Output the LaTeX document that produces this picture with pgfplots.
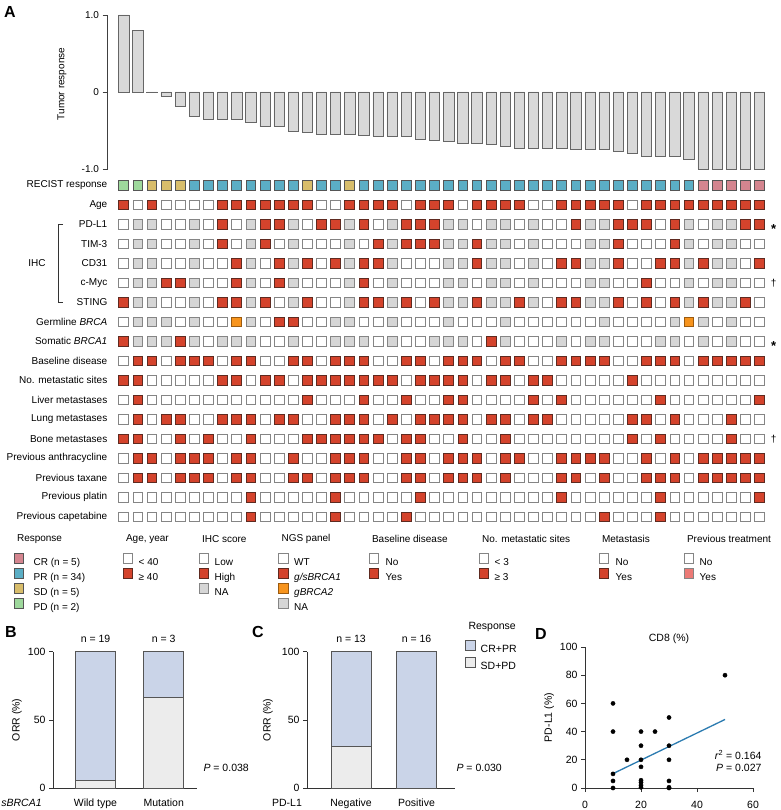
\documentclass[border=0pt]{standalone}
\usepackage{fontspec}
\setmainfont{Liberation Sans}
\usepackage{pgfplots}
\usepackage{pgfplotstable}
\pgfplotsset{compat=1.18}

\definecolor{cred}{HTML}{D4432C}
\definecolor{credb}{HTML}{5E2A20}
\definecolor{cgr}{HTML}{D6D6D6}
\definecolor{cbw}{HTML}{858585}
\definecolor{cor}{HTML}{F7941D}
\definecolor{corb}{HTML}{9A5A10}
\definecolor{ccr}{HTML}{D4858F}
\definecolor{cpr}{HTML}{5BAEC5}
\definecolor{csd}{HTML}{D8BD6B}
\definecolor{cpd}{HTML}{9ED89C}
\definecolor{cbk}{HTML}{555555}
\definecolor{cwf}{HTML}{D9D9D9}
\definecolor{cblue}{HTML}{CAD4E8}
\definecolor{cgl}{HTML}{ECECEC}
\definecolor{cline}{HTML}{2B7BB0}
\definecolor{csal}{HTML}{EC7A76}

\newcommand\fa{\fontsize{10}{12}\selectfont}
\newcommand\fb{\fontsize{10.5}{12.5}\selectfont}

% one line per patient: waterfall value, RECIST class, then the 17 annotation rows
% 0 white, 1 red, 2 grey (NA), 3 orange; RECIST 4 CR, 5 PR, 6 SD, 7 PD
\pgfplotstableread{
c w rec age pdl tim cd myc st gb sb bd nm li lu bo an ta pl ca
0 1.00 7 1 0 0 0 0 1 0 1 0 1 0 0 1 0 0 0 0
1 0.80 7 0 2 2 2 2 2 2 2 1 1 1 1 1 1 1 0 0
2 -0.005 6 1 2 2 2 2 2 2 2 1 0 0 0 0 1 1 0 0
3 -0.05 6 0 0 0 0 1 0 2 2 0 0 0 1 0 0 0 0 0
4 -0.18 6 0 0 0 0 1 0 0 1 1 0 0 1 1 1 1 0 0
5 -0.31 5 0 2 2 2 2 2 2 2 1 0 0 0 0 1 1 0 0
6 -0.35 5 0 0 0 0 0 0 0 0 1 0 0 0 1 1 1 0 0
7 -0.36 5 1 1 1 0 0 1 0 2 0 1 0 1 0 0 0 0 0
8 -0.36 5 1 0 0 1 1 1 3 2 1 1 0 1 0 1 1 0 0
9 -0.40 5 1 2 2 2 2 2 2 2 1 0 0 1 1 1 1 1 1
10 -0.45 5 1 1 1 0 0 1 0 0 0 1 0 0 0 0 0 0 0
11 -0.45 5 1 1 0 1 1 0 1 0 0 1 0 1 0 0 0 0 0
12 -0.51 5 1 2 2 2 2 2 1 2 1 0 0 1 0 1 1 0 0
13 -0.52 6 1 0 0 1 0 1 0 0 1 1 1 0 1 0 1 0 0
14 -0.55 5 0 1 0 0 0 0 0 0 0 1 0 0 1 0 0 0 0
15 -0.55 5 0 1 0 1 0 0 2 2 1 1 0 1 1 1 1 1 1
16 -0.55 6 1 2 2 2 2 2 2 2 1 1 0 1 1 1 1 0 0
17 -0.56 5 1 1 0 1 1 1 0 2 1 1 1 1 1 1 1 0 0
18 -0.57 5 1 0 1 1 0 1 0 0 0 1 0 0 1 0 0 0 0
19 -0.57 5 1 2 2 2 2 2 2 2 0 1 0 1 0 0 0 0 0
20 -0.58 5 0 1 1 0 0 1 0 0 1 0 1 0 1 1 1 0 1
21 -0.62 5 1 1 1 0 0 0 0 0 1 1 0 1 1 1 1 1 0
22 -0.63 5 1 1 1 0 0 1 0 2 0 1 0 1 0 0 0 0 0
23 -0.64 5 1 2 2 2 2 2 2 2 1 1 1 1 0 1 1 0 0
24 -0.67 5 0 2 2 2 2 2 0 2 1 1 1 1 1 1 1 0 0
25 -0.67 5 1 0 1 1 0 1 0 0 1 0 0 0 0 1 1 0 0
26 -0.68 5 1 2 2 2 2 2 0 1 0 1 0 1 0 0 0 0 0
27 -0.70 5 1 2 2 2 2 2 2 2 1 1 0 1 1 1 1 0 0
28 -0.73 5 1 0 0 0 0 1 0 0 1 0 0 0 0 1 0 0 0
29 -0.73 5 0 2 2 2 2 2 0 0 0 1 1 1 0 0 0 0 0
30 -0.73 5 0 0 0 0 0 0 0 0 0 1 0 1 0 0 0 0 0
31 -0.73 5 1 0 0 1 0 1 0 2 1 0 1 0 0 1 1 1 0
32 -0.75 5 1 1 0 1 0 1 0 0 1 0 0 0 0 1 1 0 0
33 -0.75 5 1 2 2 2 2 2 0 2 1 0 0 0 0 1 0 0 0
34 -0.75 5 1 2 2 2 2 2 2 2 1 0 0 0 0 1 1 0 1
35 -0.77 5 1 1 1 1 0 1 0 0 0 0 0 0 0 0 0 0 0
36 -0.79 5 0 1 0 0 0 0 0 0 0 1 0 1 1 0 0 0 0
37 -0.83 5 1 1 0 0 1 1 0 0 1 0 0 1 0 1 1 0 0
38 -0.83 5 1 0 0 1 0 0 0 2 1 0 1 0 1 0 1 1 1
39 -0.83 5 1 1 1 1 0 1 2 2 1 0 0 1 0 1 1 0 0
40 -0.87 5 1 2 2 2 2 2 3 0 0 0 0 0 0 0 0 0 0
41 -1.00 4 1 0 0 1 0 1 2 2 1 0 0 0 0 1 1 0 0
42 -1.00 4 1 2 2 2 2 2 0 0 1 0 0 0 0 1 1 0 0
43 -1.00 4 1 2 2 2 2 2 2 2 1 0 0 1 1 1 1 0 0
44 -1.00 4 1 1 0 0 0 1 0 0 1 0 0 0 0 1 1 0 0
45 -1.00 4 1 1 0 1 0 0 0 0 1 0 1 0 0 1 1 1 0
}\gridtab

\pgfplotsset{
  every axis/.append style={/pgf/number format/assume math mode=true},
  cellrow/.style={scatter, only marks, scatter src=explicit symbolic,
    mark size=4.9pt, line width=0.7pt,
    scatter/classes={
      0={mark=square*, fill=white, draw=cbw},
      1={mark=square*, fill=cred, draw=credb},
      2={mark=square*, fill=cgr, draw=cbw},
      3={mark=square*, fill=cor, draw=corb},
      4={mark=square*, fill=ccr, draw=cbk},
      5={mark=square*, fill=cpr, draw=cbk},
      6={mark=square*, fill=csd, draw=cbk},
      7={mark=square*, fill=cpd, draw=cbk}}},
  lgd/.style={hide axis, scale only axis, width=1pt, height=1pt,
    xmin=0, xmax=1, ymin=0, ymax=1, anchor=north west,
    legend image code/.code={\draw[line width=0.7pt, ##1] (0pt,-1.25pt) rectangle (9.5pt,8.25pt);},
    legend style={at={(0,1)}, anchor=north west, draw=none, fill=none,
      inner sep=0pt, outer sep=0pt, row sep=1.7pt, column sep=#1,
      font=\fa, nodes={inner sep=0pt, text height=8.25pt, text depth=1.25pt}},
    legend cell align=left},
  panel/.style={scale only axis, anchor=south west, axis x line=bottom, axis y line=left,
    axis line style={-, draw=black!80, line width=0.6pt}, tick align=outside,
    major tick length=4pt, tick style={draw=black!80, line width=0.6pt},
    tick label style={font=\fb}, label style={font=\fb}, clip=false},
}

\begin{document}
\begin{tikzpicture}[x=1pt,y=1pt]
\useasboundingbox (0,0) rectangle (780,810);

% ---------------- A: waterfall
\begin{axis}[at={(107.5pt,641pt)}, anchor=south west, scale only axis,
  width=659.1pt, height=154pt, xmin=-1.143, xmax=45.5, ymin=-1, ymax=1,
  axis x line=none, axis y line=left, axis line style={-, draw=black!75, line width=0.6pt},
  ytick={-1,0,1}, yticklabels={-1.0,0,1.0}, tick align=outside, major tick length=5pt,
  ytick style={draw=black!75, line width=0.6pt}, yticklabel style={font=\fa},
  ylabel={Tumor response}, ylabel style={font=\fa, at={(axis description cs:-0.069,0.552)}, anchor=center},
  clip=false]
\addplot[ybar, bar width=10.3pt, fill=cwf, draw=black!60, line width=0.6pt]
  table[x=c, y=w] {\gridtab};
\end{axis}

% ---------------- A: annotation grid
\begin{axis}[at={(107.5pt,283.45pt)}, anchor=south west, scale only axis,
  width=659.1pt, height=351pt, xmin=-1.143, xmax=45.5, ymin=-0.5, ymax=17.5,
  y dir=reverse, clip=false, axis x line=none, axis y line*=left,
  y axis line style={draw=none}, ytick={0,...,17}, ytick style={draw=none},
  yticklabels={RECIST response, Age, PD-L1, TIM-3, CD31, c-Myc, STING,
    {Germline \textit{BRCA}}, {Somatic \textit{BRCA1}}, Baseline disease,
    No. metastatic sites, Liver metastases, Lung metastases, Bone metastases,
    Previous anthracycline, Previous taxane, Previous platin, Previous capetabine},
  yticklabel style={font=\fa, anchor=east, inner sep=0pt}]
\addplot[cellrow] table[x=c, y expr=0, meta=rec] {\gridtab};
\addplot[cellrow] table[x=c, y expr=1, meta=age] {\gridtab};
\addplot[cellrow] table[x=c, y expr=2, meta=pdl] {\gridtab};
\addplot[cellrow] table[x=c, y expr=3, meta=tim] {\gridtab};
\addplot[cellrow] table[x=c, y expr=4, meta=cd] {\gridtab};
\addplot[cellrow] table[x=c, y expr=5, meta=myc] {\gridtab};
\addplot[cellrow] table[x=c, y expr=6, meta=st] {\gridtab};
\addplot[cellrow] table[x=c, y expr=7, meta=gb] {\gridtab};
\addplot[cellrow] table[x=c, y expr=8, meta=sb] {\gridtab};
\addplot[cellrow] table[x=c, y expr=9, meta=bd] {\gridtab};
\addplot[cellrow] table[x=c, y expr=10, meta=nm] {\gridtab};
\addplot[cellrow] table[x=c, y expr=11, meta=li] {\gridtab};
\addplot[cellrow] table[x=c, y expr=12, meta=lu] {\gridtab};
\addplot[cellrow] table[x=c, y expr=13, meta=bo] {\gridtab};
\addplot[cellrow] table[x=c, y expr=14, meta=an] {\gridtab};
\addplot[cellrow] table[x=c, y expr=15, meta=ta] {\gridtab};
\addplot[cellrow] table[x=c, y expr=16, meta=pl] {\gridtab};
\addplot[cellrow] table[x=c, y expr=17, meta=ca] {\gridtab};
\node[font=\fontsize{13}{13}\selectfont\bfseries] at (axis cs:46,2.25) {*};
\node[font=\fontsize{13}{13}\selectfont\bfseries] at (axis cs:46,8.25) {*};
\node[font=\fa] at (axis cs:46,5) {\textdagger};
\node[font=\fa] at (axis cs:46,13) {\textdagger};
\end{axis}

\draw[line width=0.6pt, black!80] (63,585.7) -- (58,585.7) -- (58,507.7) -- (63,507.7);
\node[font=\fa] at (37,546.7) {IHC};
\node[font=\fontsize{16}{16}\selectfont\bfseries] at (10,798) {A};

% ---------------- A: legends
\node[font=\fa, anchor=west] at (13.5,271) {Response};
\node[font=\fa, anchor=west] at (122.5,271) {Age, year};
\node[font=\fa, anchor=west] at (198.5,271) {IHC score};
\node[font=\fa, anchor=west] at (278,271) {NGS panel};
\node[font=\fa, anchor=west] at (368.5,271) {Baseline disease};
\node[font=\fa, anchor=west] at (478.5,271) {No. metastatic sites};
\node[font=\fa, anchor=west] at (598.5,271) {Metastasis};
\node[font=\fa, anchor=west] at (683.5,271) {Previous treatment};

\begin{axis}[lgd=10pt, at={(13.5pt,256.75pt)}]
\addlegendimage{fill=ccr, draw=cbk}\addlegendentry{CR (n = 5)}
\addlegendimage{fill=cpr, draw=cbk}\addlegendentry{PR (n = 34)}
\addlegendimage{fill=csd, draw=cbk}\addlegendentry{SD (n = 5)}
\addlegendimage{fill=cpd, draw=cbk}\addlegendentry{PD (n = 2)}
\end{axis}
\begin{axis}[lgd=6pt, at={(122.5pt,256.75pt)}]
\addlegendimage{fill=white, draw=cbw}\addlegendentry{< 40}
\addlegendimage{fill=cred, draw=credb}\addlegendentry{≥ 40}
\end{axis}
\begin{axis}[lgd=6pt, at={(198.5pt,256.75pt)}]
\addlegendimage{fill=white, draw=cbw}\addlegendentry{Low}
\addlegendimage{fill=cred, draw=credb}\addlegendentry{High}
\addlegendimage{fill=cgr, draw=cbw}\addlegendentry{NA}
\end{axis}
\begin{axis}[lgd=6pt, at={(278pt,256.75pt)}]
\addlegendimage{fill=white, draw=cbw}\addlegendentry{WT}
\addlegendimage{fill=cred, draw=credb}\addlegendentry{\textit{g/sBRCA1}}
\addlegendimage{fill=cor, draw=corb}\addlegendentry{\textit{gBRCA2}}
\addlegendimage{fill=cgr, draw=cbw}\addlegendentry{NA}
\end{axis}
\begin{axis}[lgd=7pt, at={(368.5pt,256.75pt)}]
\addlegendimage{fill=white, draw=cbw}\addlegendentry{No}
\addlegendimage{fill=cred, draw=credb}\addlegendentry{Yes}
\end{axis}
\begin{axis}[lgd=6pt, at={(478.5pt,256.75pt)}]
\addlegendimage{fill=white, draw=cbw}\addlegendentry{< 3}
\addlegendimage{fill=cred, draw=credb}\addlegendentry{≥ 3}
\end{axis}
\begin{axis}[lgd=7pt, at={(598.5pt,256.75pt)}]
\addlegendimage{fill=white, draw=cbw}\addlegendentry{No}
\addlegendimage{fill=cred, draw=credb}\addlegendentry{Yes}
\end{axis}
\begin{axis}[lgd=6pt, at={(683.5pt,256.75pt)}]
\addlegendimage{fill=white, draw=cbw}\addlegendentry{No}
\addlegendimage{fill=csal, draw=cbw}\addlegendentry{Yes}
\end{axis}

% ---------------- B
\begin{axis}[panel, at={(53pt,22pt)}, width=144pt, height=136.3pt,
  ybar stacked, bar width=40pt, xmin=-0.623, xmax=1.488, ymin=0, ymax=100,
  xtick={0,1}, xticklabels={Wild type, Mutation}, xtick style={draw=none},
  xticklabel style={yshift=-3pt}, ytick={0,50,100},
  ylabel={ORR (\%)}, ylabel style={at={(axis description cs:-0.25,0.5)}, anchor=center}]
\addplot[fill=cgl, draw=cbk, line width=0.6pt] coordinates {(0,5.3) (1,66.7)};
\addplot[fill=cblue, draw=cbk, line width=0.6pt] coordinates {(0,94.7) (1,33.3)};
\node[font=\fb, yshift=12.7pt] at (axis cs:0,100) {n = 19};
\node[font=\fb, yshift=12.7pt] at (axis cs:1,100) {n = 3};
\node[font=\fb, yshift=-10.3pt] at (axis cs:0,100) {94.7\%};
\node[font=\fb, yshift=-10.3pt] at (axis cs:1,100) {33.3\%};
\end{axis}
\node[font=\fb] at (21.5,7) {\textit{sBRCA1}};
\node[font=\fb, anchor=west] at (200,41.7) {\textit{P} = 0.038};
\node[font=\fontsize{16}{16}\selectfont\bfseries] at (11,178) {B};

% ---------------- C
\begin{axis}[panel, at={(307pt,22pt)}, width=148pt, height=136.3pt,
  ybar stacked, bar width=40pt, xmin=-0.672, xmax=1.588, ymin=0, ymax=100,
  xtick={0,1}, xticklabels={Negative, Positive}, xtick style={draw=none},
  xticklabel style={yshift=-3pt}, ytick={0,50,100},
  ylabel={ORR (\%)}, ylabel style={at={(axis description cs:-0.264,0.5)}, anchor=center}]
\addplot[fill=cgl, draw=cbk, line width=0.6pt] coordinates {(0,30.8) (1,0)};
\addplot[fill=cblue, draw=cbk, line width=0.6pt] coordinates {(0,69.2) (1,100)};
\node[font=\fb, yshift=12.7pt] at (axis cs:0,100) {n = 13};
\node[font=\fb, yshift=12.7pt] at (axis cs:1,100) {n = 16};
\node[font=\fb, yshift=-10.3pt] at (axis cs:0,100) {69.2\%};
\node[font=\fb, yshift=-10.3pt] at (axis cs:1,100) {100\%};
\end{axis}
\node[font=\fb] at (287,7) {PD-L1};
\node[font=\fb, anchor=west] at (453,41.7) {\textit{P} = 0.030};
\node[font=\fontsize{16}{16}\selectfont\bfseries] at (258,178) {C};
\node[font=\fb, anchor=west] at (465,183) {Response};
\begin{axis}[lgd=5.5pt, at={(465pt,169.75pt)}, legend style={font=\fb, row sep=3.9pt}]
\addlegendimage{fill=cblue, draw=cbk}\addlegendentry{CR+PR}
\addlegendimage{fill=cgl, draw=cbk}\addlegendentry{SD+PD}
\end{axis}

% ---------------- D
\begin{axis}[panel, at={(585pt,22pt)}, width=168pt, height=141pt,
  xmin=0, xmax=60, ymin=0, ymax=100, xtick={0,20,40,60}, ytick={0,20,...,100},
  xticklabel style={yshift=-6pt},
  ylabel={PD-L1 (\%)}, ylabel style={at={(axis description cs:-0.214,0.5)}, anchor=center}]
\addplot[cline, line width=1.3pt] coordinates {(10,10.2) (50,48.6)};
\addplot[only marks, mark=*, mark size=2.1pt, black] coordinates {
  (10,60) (10,40) (10,10) (10,5) (10,0) (15,20)
  (20,40) (20,30) (20,20) (20,15) (20,5.5) (20,4) (20,2) (20,0.5)
  (25,40) (30,50) (30,30) (30,20) (30,5) (30,0.5) (30,0) (50,80)};
\end{axis}
\node[font=\fb] at (669,171) {CD8 (\%)};
\node[font=\fb, anchor=east] at (765,55) {\textit{r}\textsuperscript{2} = 0.164};
\node[font=\fb, anchor=east] at (765,41.7) {\textit{P} = 0.027};
\node[font=\fontsize{16}{16}\selectfont\bfseries] at (541,176) {D};

\end{tikzpicture}
\end{document}
